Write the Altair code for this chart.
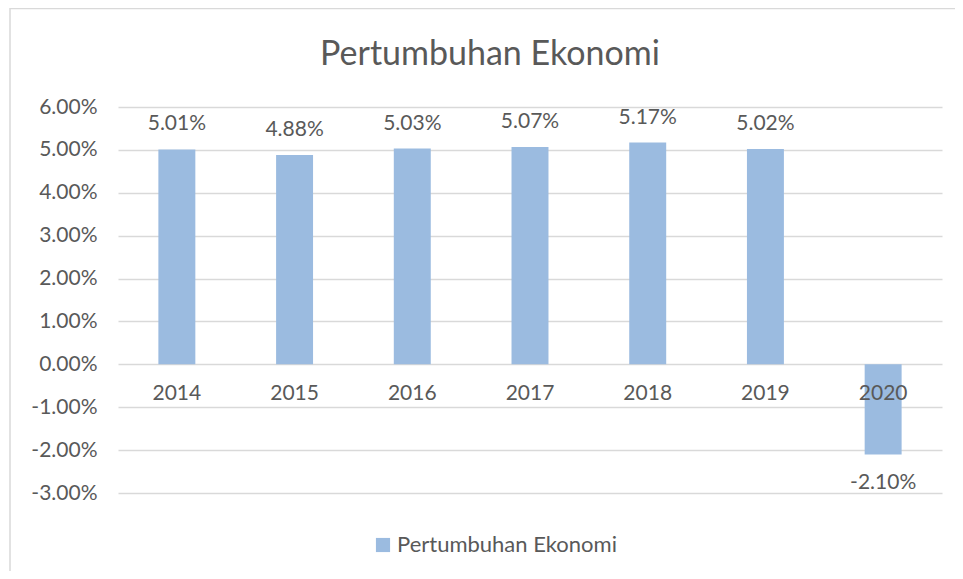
import altair as alt
import pandas as pd

years = ["2014", "2015", "2016", "2017", "2018", "2019", "2020"]
growth = [0.0501, 0.0488, 0.0503, 0.0507, 0.0517, 0.0502, -0.0210]
series_name = "Pertumbuhan Ekonomi"
y_ticks = [-0.03, -0.02, -0.01, 0.0, 0.01, 0.02, 0.03, 0.04, 0.05, 0.06]

df = pd.DataFrame({"year": years, "value": growth, "series": [series_name] * len(years)})

FONT = "Lato"
TXT = "#595959"
GRID = "#D9D9D9"
BAR = "#9BBBE0"
FS = 21

x_enc = alt.X("year:N", sort=years,
              scale=alt.Scale(paddingInner=0.686, paddingOuter=0.343),
              axis=None)
y_scale = alt.Scale(domain=[-0.03, 0.06], nice=False, zero=False)

base = alt.Chart(df).transform_calculate(
    lbl="replace(format(datum.value, '.2%'), '\u2212', '-')"
)

bars = base.mark_bar().encode(
    x=x_enc,
    y=alt.Y("value:Q", scale=y_scale,
            axis=alt.Axis(values=y_ticks, title=None,
                          labelExpr="replace(format(datum.value, '.2%'), '\u2212', '-')",
                          domain=False, ticks=False, grid=True,
                          gridColor=GRID, gridWidth=1.3,
                          labelFont=FONT, labelFontSize=FS, labelColor=TXT,
                          labelPadding=21)),
    color=alt.Color("series:N",
                    scale=alt.Scale(domain=[series_name], range=[BAR]),
                    legend=alt.Legend(title=None, orient="none", legendX=254, legendY=427,
                                      symbolType="square", symbolSize=200,
                                      symbolStrokeWidth=0, labelFont=FONT,
                                      labelFontSize=22, labelColor=TXT,
                                      labelOffset=3, labelLimit=0)),
)

pos_labels = base.transform_filter("datum.value >= 0").mark_text(
    font=FONT, fontSize=FS, color=TXT, baseline="middle", dy=-25
).encode(x=x_enc, y=alt.Y("value:Q", scale=y_scale), text="lbl:N")

neg_labels = base.transform_filter("datum.value < 0").mark_text(
    font=FONT, fontSize=FS, color=TXT, baseline="middle", dy=29
).encode(x=x_enc, y=alt.Y("value:Q", scale=y_scale), text="lbl:N")

cat_labels = base.mark_text(
    font=FONT, fontSize=FS, color=TXT, baseline="middle", dy=30
).encode(x=x_enc, y=alt.datum(0, scale=y_scale), text="year:N")

frame = alt.Chart(pd.DataFrame({"f": [0]})).mark_rect(
    fill=None, stroke=GRID, strokeWidth=1.5
).encode(x=alt.value(-108), x2=alt.value(860), y=alt.value(-98.5), y2=alt.value(480))

chart = alt.layer(frame, bars, pos_labels, neg_labels, cat_labels).properties(
    width=824, height=386,
    title=alt.TitleParams(series_name, font=FONT, fontSize=34, fontWeight="normal",
                          color=TXT, anchor="middle", dx=-40, offset=-64),
    autosize=alt.AutoSizeParams(type="none"),
    padding={"left": 110, "top": 99, "right": 13, "bottom": 78},
).configure_view(stroke=None)

chart.save("out.html", embed_options={"renderer": "svg", "actions": False})
